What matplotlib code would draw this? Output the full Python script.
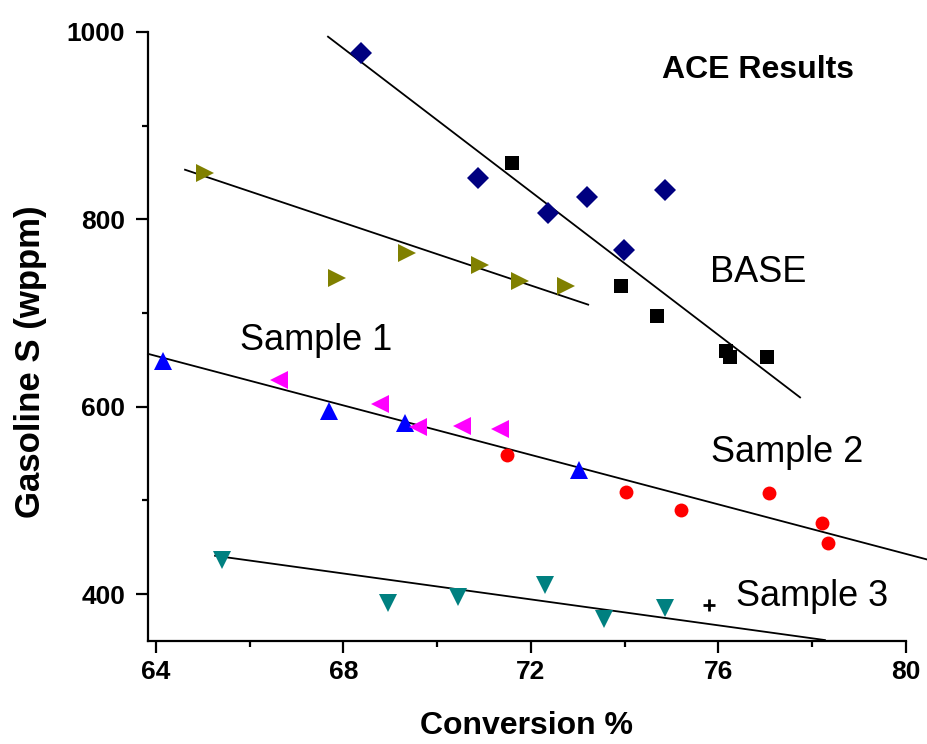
import matplotlib
matplotlib.use("Agg")
import matplotlib.pyplot as plt

# ---------------- data ----------------
base_dia_x = [68.37, 70.87, 72.36, 73.19, 73.98, 74.86]
base_dia_y = [978, 844, 807, 824, 767, 831]
base_sq_x = [71.60, 73.92, 74.69, 76.16, 76.25, 77.03]
base_sq_y = [860, 729, 697, 659, 653, 653]
base_fit_x = [67.67, 77.74]
base_fit_y = [995, 610]

olive_x = [65.05, 67.86, 69.35, 70.91, 71.77, 72.75]
olive_y = [849, 737, 764, 751, 734, 729]
olive_fit_x = [64.62, 73.22]
olive_fit_y = [853, 709]

s1_tri_x = [64.15, 67.69, 69.31, 73.02]
s1_tri_y = [649, 596, 583, 533]
s1_left_x = [66.62, 68.78, 69.59, 70.53, 71.34]
s1_left_y = [629, 603, 578, 580, 576]
s2_x = [71.49, 74.03, 75.20, 77.08, 78.21, 78.34]
s2_y = [549, 509, 490, 508, 476, 455]
s12_fit_x = [63.83, 80.45]
s12_fit_y = [656.5, 437]

s3_x = [65.41, 68.95, 70.44, 72.30, 73.56, 74.86]
s3_y = [436, 391, 397, 410, 374, 385]
s3_fit_x = [65.26, 78.27]
s3_fit_y = [441, 351]
plus_x = [75.8]
plus_y = [388]

xticks = [64, 68, 72, 76, 80]
yticks = [400, 600, 800, 1000]

plt.rcParams['font.family'] = ['Liberation Sans', 'DejaVu Sans']

fig = plt.figure(figsize=(9.27, 7.44), dpi=100)
ax = fig.add_axes([148/927, 1-641/744, (906-148)/927, (641-32)/744])

ax.plot(base_fit_x, base_fit_y, color='black', lw=1.3, zorder=2)
ax.plot(olive_fit_x, olive_fit_y, color='black', lw=1.3, zorder=2)
ax.plot(s12_fit_x, s12_fit_y, color='black', lw=1.3, zorder=2, clip_on=False)
ax.plot(s3_fit_x, s3_fit_y, color='black', lw=1.3, zorder=2)

ax.plot(base_dia_x, base_dia_y, 'D', color='#000080', ms=11, mew=0, zorder=3)
ax.plot(base_sq_x, base_sq_y, 's', color='black', ms=9.5, mew=0, zorder=3)
ax.plot(olive_x, olive_y, '>', color='#808000', ms=13, mew=0, zorder=3)
ax.plot(s1_tri_x, s1_tri_y, '^', color='#0000FF', ms=13, mew=0, zorder=3)
ax.plot(s1_left_x, s1_left_y, '<', color='#FF00FF', ms=13, mew=0, zorder=3)
ax.plot(s2_x, s2_y, 'o', color='#FF0000', ms=10, mew=0, zorder=3)
ax.plot(s3_x, s3_y, 'v', color='#008080', ms=13, mew=0, zorder=3)
ax.plot(plus_x, plus_y, '+', color='black', ms=9, mew=2, zorder=3)

ax.set_xlim(63.83, 80)
ax.set_ylim(350, 1000)
ax.set_xticks(xticks)
ax.set_yticks(yticks)
ax.set_xticks([66, 70, 74, 78], minor=True)
ax.set_yticks([500, 700, 900], minor=True)
for s in ['top', 'right']:
    ax.spines[s].set_visible(False)
for s in ['left', 'bottom']:
    ax.spines[s].set_linewidth(1.6)
ax.tick_params(which='major', direction='out', length=8.5, width=1.6)
ax.tick_params(which='minor', direction='out', length=4.5, width=1.6)
for lab in ax.get_xticklabels() + ax.get_yticklabels():
    lab.set_fontweight('bold')
    lab.set_fontsize(19)
ax.tick_params(axis='x', pad=5)
ax.tick_params(axis='y', pad=8)

fig.text(527/927, 1-726/744, 'Conversion %', fontweight='bold', fontsize=23,
         ha='center', va='center')
fig.text(31/927, 1-362/744, 'Gasoline S (wppm)', fontweight='bold', fontsize=25,
         ha='center', va='center', rotation=90)

fig.text(758/927, 1-70/744, 'ACE Results', fontweight='bold', fontsize=23,
         ha='center', va='center')
fig.text(758/927, 1-272/744, 'BASE', ha='center', va='center', fontsize=26)
fig.text(316/927, 1-340/744, 'Sample 1', ha='center', va='center', fontsize=26)
fig.text(787/927, 1-452/744, 'Sample 2', ha='center', va='center', fontsize=26)
fig.text(812/927, 1-596/744, 'Sample 3', ha='center', va='center', fontsize=26)

fig.savefig('out.png', dpi=100)
